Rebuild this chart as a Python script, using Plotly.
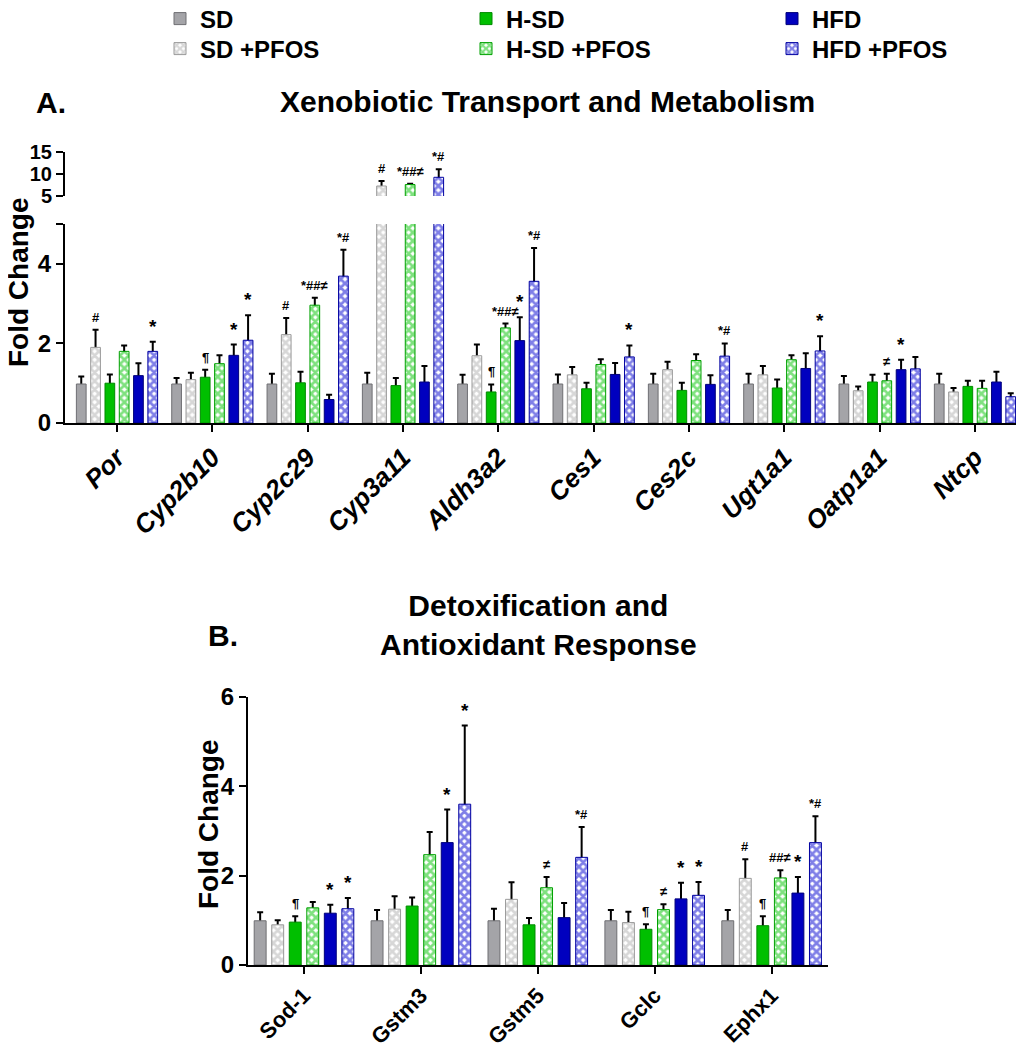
import plotly.graph_objects as go

FONT = "Liberation Sans, Arial, sans-serif"

# groups (bar order inside each gene)
groups = ["SD", "SD +PFOS", "H-SD", "H-SD +PFOS", "HFD", "HFD +PFOS"]

# ---- panel A: xenobiotic transport and metabolism ----
genes_a = ["Por", "Cyp2b10", "Cyp2c29", "Cyp3a11", "Aldh3a2",
           "Ces1", "Ces2c", "Ugt1a1", "Oatp1a1", "Ntcp"]

sd_a = [0.98, 0.98, 0.98, 0.98, 0.98, 0.98, 0.98, 0.98, 0.98, 0.98]
sd_pfos_a = [1.90, 1.09, 2.22, 7.27, 1.69, 1.21, 1.34, 1.21, 0.81, 0.78]
hsd_a = [1.00, 1.15, 1.01, 0.94, 0.78, 0.86, 0.82, 0.88, 1.03, 0.92]
hsd_pfos_a = [1.80, 1.49, 2.96, 7.60, 2.39, 1.47, 1.57, 1.59, 1.06, 0.87]
hfd_a = [1.19, 1.70, 0.59, 1.03, 2.07, 1.22, 0.97, 1.37, 1.34, 1.03]
hfd_pfos_a = [1.80, 2.08, 3.69, 9.25, 3.56, 1.66, 1.68, 1.81, 1.36, 0.66]

sd_a_err = [0.19, 0.15, 0.26, 0.28, 0.23, 0.24, 0.26, 0.26, 0.20, 0.26]
sd_pfos_a_err = [0.44, 0.17, 0.42, 1.13, 0.28, 0.20, 0.20, 0.22, 0.11, 0.10]
hsd_a_err = [0.22, 0.19, 0.28, 0.19, 0.19, 0.15, 0.19, 0.21, 0.18, 0.14]
hsd_pfos_a_err = [0.15, 0.21, 0.19, 0.20, 0.11, 0.13, 0.16, 0.11, 0.18, 0.19]
hfd_a_err = [0.31, 0.27, 0.12, 0.40, 0.59, 0.29, 0.23, 0.38, 0.25, 0.26]
hfd_pfos_a_err = [0.24, 0.63, 0.66, 1.85, 0.84, 0.29, 0.32, 0.37, 0.30, 0.09]

sd_a_sig = [""] * 10
sd_pfos_a_sig = ["#", "", "#", "#", "", "", "", "", "", ""]
hsd_a_sig = ["", "¶", "", "", "¶", "", "", "", "", ""]
hsd_pfos_a_sig = ["", "", "*##≠", "*##≠", "*##≠", "", "", "", "≠", ""]
hfd_a_sig = ["", "*", "", "", "*", "", "", "", "*", ""]
hfd_pfos_a_sig = ["*", "*", "*#", "*#", "*#", "*", "*#", "*", "", ""]

# ---- panel B: detoxification and antioxidant response ----
genes_b = ["Sod-1", "Gstm3", "Gstm5", "Gclc", "Ephx1"]

sd_b = [0.99, 0.99, 0.99, 0.99, 0.99]
sd_pfos_b = [0.90, 1.25, 1.47, 0.95, 1.94]
hsd_b = [0.96, 1.32, 0.90, 0.80, 0.88]
hsd_pfos_b = [1.28, 2.47, 1.73, 1.24, 1.95]
hfd_b = [1.16, 2.74, 1.06, 1.48, 1.61]
hfd_pfos_b = [1.26, 3.60, 2.41, 1.56, 2.74]

sd_b_err = [0.19, 0.24, 0.27, 0.24, 0.24]
sd_pfos_b_err = [0.10, 0.29, 0.38, 0.24, 0.43]
hsd_b_err = [0.13, 0.19, 0.15, 0.11, 0.21]
hsd_pfos_b_err = [0.13, 0.51, 0.24, 0.12, 0.17]
hfd_b_err = [0.19, 0.74, 0.33, 0.36, 0.36]
hfd_pfos_b_err = [0.24, 1.76, 0.68, 0.30, 0.59]

sd_b_sig = [""] * 5
sd_pfos_b_sig = ["", "", "", "", "#"]
hsd_b_sig = ["¶", "", "", "¶", "¶"]
hsd_pfos_b_sig = ["", "", "≠", "≠", "##≠"]
hfd_b_sig = ["*", "*", "", "*", "*"]
hfd_pfos_b_sig = ["*", "*", "*#", "*", "*#"]

values_a = [sd_a, sd_pfos_a, hsd_a, hsd_pfos_a, hfd_a, hfd_pfos_a]
errors_a = [sd_a_err, sd_pfos_a_err, hsd_a_err, hsd_pfos_a_err, hfd_a_err, hfd_pfos_a_err]
sigs_a = [sd_a_sig, sd_pfos_a_sig, hsd_a_sig, hsd_pfos_a_sig, hfd_a_sig, hfd_pfos_a_sig]
values_b = [sd_b, sd_pfos_b, hsd_b, hsd_pfos_b, hfd_b, hfd_pfos_b]
errors_b = [sd_b_err, sd_pfos_b_err, hsd_b_err, hsd_pfos_b_err, hfd_b_err, hfd_pfos_b_err]
sigs_b = [sd_b_sig, sd_pfos_b_sig, hsd_b_sig, hsd_pfos_b_sig, hfd_b_sig, hfd_pfos_b_sig]

# styling per group: (colour, outline, checkered?, legend)
styles = [
    ("#a4a4a8", "#6f6f73", False, "legend"),
    ("#b0b0b0", "#9a9a9a", True, "legend2"),
    ("#00bf00", "#008a00", False, "legend"),
    ("#00c400", "#00a000", True, "legend2"),
    ("#0000bf", "#00007a", False, "legend"),
    ("#0000d0", "#0000a0", True, "legend2"),
]

BARGAP = 0.10
GROUPGAP = 0.32

# the page body has an 8px margin, so the figure sits 8px in from the window corner
OFF = 8
W, H = 1024 - OFF, 1050 - OFF


def fx(px):
    return (px - OFF) / W


def fy(py):
    return 1 - (py - OFF) / H


fig = go.Figure()


def add_panel(genes, values, errors, xaxis, yaxis, legend):
    for k, name in enumerate(groups):
        color, edge, checker, leg = styles[k]
        tops = [v + e for v, e in zip(values[k], errors[k])]
        # error carrier drawn first; the real bar then hides the part inside it
        fig.add_trace(go.Bar(
            x=genes, y=tops, offsetgroup=name, xaxis=xaxis, yaxis=yaxis,
            marker=dict(color="rgba(0,0,0,0)", line=dict(width=0)),
            error_y=dict(type="data", symmetric=False, array=[0] * len(genes),
                         arrayminus=tops, color="black", thickness=2, width=3),
            showlegend=False, hoverinfo="skip",
        ))
        marker = dict(color=color, line=dict(color=edge, width=1))
        if checker:
            marker["pattern"] = dict(shape="x", fgcolor=color, bgcolor="white",
                                     size=6, solidity=0.7)
        fig.add_trace(go.Bar(
            x=genes, y=values[k], name=name, offsetgroup=name,
            xaxis=xaxis, yaxis=yaxis, marker=marker,
            showlegend=legend, legend=leg,
        ))


add_panel(genes_a, values_a, errors_a, "x", "y", True)
add_panel(genes_a, values_a, errors_a, "x", "y2", False)
add_panel(genes_b, values_b, errors_b, "x2", "y3", False)


def sig_annotations(genes, values, errors, sigs, xref, yref_of, cat_px):
    slot = cat_px * (1 - BARGAP) / 6
    out = []
    for k in range(6):
        for i, g in enumerate(genes):
            s = sigs[k][i]
            if not s:
                continue
            top = values[k][i] + errors[k][i]
            # a lone asterisk is printed larger than the ones in combined marks
            text = '<span style="font-size:19px">*</span>' if s == "*" else s
            out.append(dict(
                x=g, y=top, xref=xref, yref=yref_of(top), text=text,
                showarrow=False, yanchor="bottom", yshift=4, borderpad=0,
                xshift=(k - 2.5) * slot,
                font=dict(family=FONT, size=13, color="black", weight="bold"),
            ))
    return out


# pixel width of one gene slot and the pixel centre of the first gene
cat_a, first_a = 95.33, 117
cat_b, first_b = 116.9, 304

annotations = []
annotations += sig_annotations(genes_a, values_a, errors_a, sigs_a, "x",
                               lambda t: "y2" if t > 5 else "y", cat_a)
annotations += sig_annotations(genes_b, values_b, errors_b, sigs_b, "x2",
                               lambda t: "y3", cat_b)

title_font = dict(family=FONT, size=30, color="black", weight="bold")
label_font = dict(family=FONT, size=28, color="black", weight="bold")
annotations += [
    dict(text="A.", x=fx(34), y=fy(103), xref="paper", yref="paper",
         xanchor="left", yanchor="middle", showarrow=False, font=title_font),
    dict(text="Xenobiotic Transport and Metabolism", x=fx(547), y=fy(101),
         xref="paper", yref="paper", xanchor="center", yanchor="middle",
         showarrow=False, font=title_font),
    dict(text="B.", x=fx(206), y=fy(635), xref="paper", yref="paper",
         xanchor="left", yanchor="middle", showarrow=False, font=title_font),
    dict(text="Detoxification and<br>Antioxidant Response", x=fx(538),
         y=fy(625), xref="paper", yref="paper", xanchor="center",
         yanchor="middle", showarrow=False, font=title_font),
    dict(text="Fold Change", x=fx(19), y=fy(282), xref="paper",
         yref="paper", textangle=-90, xanchor="center", yanchor="middle",
         showarrow=False, font=label_font),
    dict(text="Fold Change", x=fx(208), y=fy(824), xref="paper",
         yref="paper", textangle=-90, xanchor="center", yanchor="middle",
         showarrow=False, font=label_font),
]

axis_common = dict(showline=True, linecolor="black", linewidth=2,
                   ticks="outside", ticklen=7, tickwidth=2, tickcolor="black",
                   showgrid=False, zeroline=False, fixedrange=True,
                   automargin=False)
ytick_font = dict(family=FONT, size=24, color="black", weight="bold")
ytick_small = dict(family=FONT, size=20, color="black", weight="bold")
xtick_a = dict(family=FONT, size=26, color="black", weight="bold", style="italic")
xtick_b = dict(family=FONT, size=22, color="black", weight="bold")
legend_font = dict(family=FONT, size=24, color="black", weight="bold")

legend_common = dict(orientation="h", x=fx(160), xanchor="left",
                     yanchor="middle", entrywidth=261, font=legend_font,
                     bgcolor="rgba(0,0,0,0)", itemclick=False,
                     itemdoubleclick=False, traceorder="normal")

fig.update_layout(
    width=W, height=H,
    margin=dict(l=0, r=0, t=0, b=0, autoexpand=False),
    paper_bgcolor="white", plot_bgcolor="white",
    barmode="group", bargap=BARGAP, bargroupgap=GROUPGAP,
    font=dict(family=FONT, color="black"),
    xaxis=dict(domain=[fx(65), fx(1020)], anchor="y",
               range=[(65 - first_a) / cat_a, (1020 - first_a) / cat_a],
               tickangle=-45, tickfont=xtick_a, **axis_common),
    yaxis=dict(domain=[fy(423), fy(224)], anchor="x", range=[0, 5],
               tickvals=[0, 2, 4, 5], ticktext=["0", "2", "4", ""],
               tickfont=ytick_font, **axis_common),
    yaxis2=dict(domain=[fy(196), fy(152)], anchor="x", range=[5, 15],
                tickvals=[5, 10, 15], tickfont=ytick_small, **axis_common),
    xaxis2=dict(domain=[fx(248), fx(828)], anchor="y3",
                range=[(248 - first_b) / cat_b, (828 - first_b) / cat_b],
                tickangle=-45, tickfont=xtick_b, **axis_common),
    yaxis3=dict(domain=[fy(965), fy(697)], anchor="x2", range=[0, 6],
                tickvals=[0, 2, 4, 6], tickfont=ytick_font, **axis_common),
    legend=dict(y=fy(19), **legend_common),
    legend2=dict(y=fy(49), **legend_common),
    annotations=annotations,
)

fig.write_html("out.html")
